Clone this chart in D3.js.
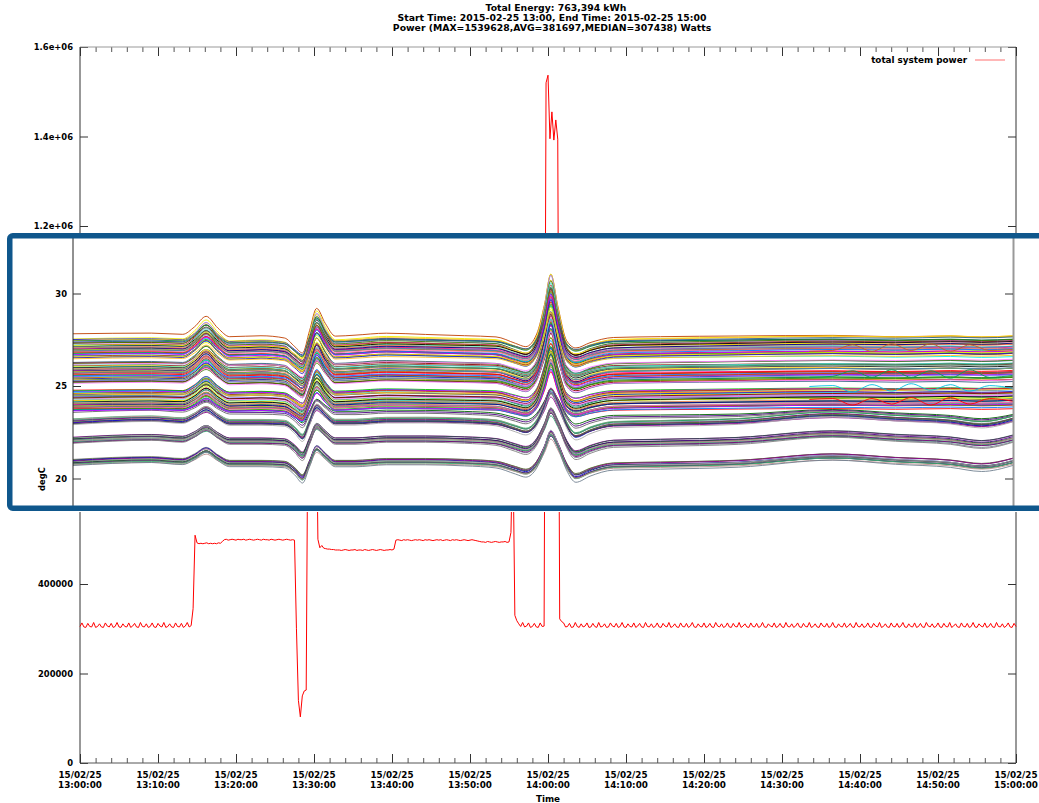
<!DOCTYPE html>
<html><head><meta charset="utf-8">
<script src="https://cdn.jsdelivr.net/npm/d3@7"></script>
<style>
body{margin:0;background:#fff;}
svg text{font-family:"DejaVu Sans",sans-serif;font-weight:bold;fill:#000;}
</style>
</head><body>
<svg id="c" width="1039" height="803"></svg>
<script>
// ---------------- DATA ----------------
const titleLines = [
  "Total Energy: 763,394 kWh",
  "Start Time: 2015-02-25 13:00, End Time: 2015-02-25 15:00",
  "Power (MAX=1539628,AVG=381697,MEDIAN=307438) Watts"
];
const legendLabel = "total system power";
const xAxisLabel = "Time";
const insetYLabel = "degC";

const powerTickValues = [0,200000,400000,600000,800000,1000000,1200000,1400000,1600000];
const powerTickLabels = ["0","200000","400000","600000","800000","1e+06","1.2e+06","1.4e+06","1.6e+06"];
const timeTickLabels = ["13:00:00","13:10:00","13:20:00","13:30:00","13:40:00","13:50:00","14:00:00","14:10:00","14:20:00","14:30:00","14:40:00","14:50:00","15:00:00"];
const dateTickLabel = "15/02/25";
const tempTickValues = [20,25,30];

// total system power, kW, one sample every 15 s from 13:00:00 to 15:00:00
const powerKW = [
305,313,304,303,312,305,304,314,303,305,311,304,303,313,306,304,312,303,305,314,
304,303,311,305,304,313,303,306,312,304,303,314,305,304,311,303,305,313,304,303,
312,306,304,314,303,305,311,304,303,313,305,304,312,303,306,314,304,307,
345,509,
492,490,491,490,491,492,490,491,490,491,490,492,491,
495,
499,500,498,499,500,499,498,500,499,499,
500,498,499,500,499,498,499,500,499,498,
500,499,499,498,500,499,498,499,500,499,
498,499,500,499,498,499,498,
300,140,103,150,161,163,880,910,905,890,870,500,481,486,
480,479,478,478,477,477,476,476,
476,475,476,477,476,475,476,476,477,475,
476,476,475,477,476,475,476,477,476,475,
476,477,476,475,476,476,477,476,478,
498,499,498,497,499,498,499,498,497,498,
499,498,499,498,497,499,498,499,498,497,
498,499,498,499,497,498,499,498,497,499,
498,499,498,497,498,499,498,497,498,499,
498,497,496,
495,494,494,493,495,494,493,494,495,494,493,494,494,495,493,494,
515,720,330,
318,311,305,314,304,306,313,303,305,312,304,303,313,305,
306,1520,1537,1395,1455,1392,1437,1394,322,316,
313,304,305,312,303,304,314,305,303,311,
304,306,313,303,304,312,305,303,314,304,
305,311,303,304,313,306,304,312,303,305,
314,304,303,311,305,304,313,303,306,312,
304,303,314,305,304,311,303,305,313,304,
303,312,306,304,314,303,305,311,304,303,
313,305,304,312,303,306,314,304,303,311,
305,304,313,303,305,312,304,303,314,306,
304,311,303,305,313,304,303,312,305,304,
314,303,306,311,304,303,313,305,304,312,
303,305,314,304,303,311,306,304,313,303,
305,312,304,303,314,305,304,311,303,306,
313,304,303,312,305,304,314,303,305,311,
304,303,313,306,304,312,303,305,314,304,
303,311,305,304,313,303,306,312,304,303,
314,305,304,311,303,305,313,304,303,312,
306,304,314,303,305,311,304,303,313,305,
304,312,303,306,314,304,303,311,305,304,
313,303,305,312,304,303,314,306,304,311,
303,305,313,304,303,312,305,304,314,303,
306,311,304,303,313,305,304,312,303,305,
314,304,303,311,306,304,313,303,305,312,
304,303,314,305,304,311,303,306,313,304,
303,312,305
];

// temperature sensors: time points (minutes after 13:00)
const tempT = [0,10,14,15.5,17,18.5,20,24,27,28.3,29.3,30.2,31.1,32.2,33.5,36,40,45,50,54,56.5,57.8,59.2,60.2,61,61.9,63,64.2,66,69,75,85,97,105,112,116,120];
// common swing (degC) of the warm rack groups
const swingUpper = [0,0.05,0,0.35,0.85,0.3,-0.1,-0.05,-0.15,-0.55,-0.85,0.2,1.25,0.55,-0.05,0,0.1,0.05,0,-0.05,-0.35,-0.5,0.1,1.5,2.9,1.4,-0.2,-0.55,-0.3,-0.05,0,0.05,0.1,0.05,0.1,0.05,0.1];
// common swing (degC) of the cool rack groups
const swingLower = [0,0.15,0.05,0.3,0.65,0.25,-0.05,-0.05,-0.1,-0.45,-0.85,-0.05,0.75,0.35,-0.05,-0.05,0.05,0.05,0,-0.1,-0.4,-0.55,-0.1,0.75,1.55,0.9,-0.2,-0.8,-0.5,-0.2,-0.15,-0.05,0.3,0.1,-0.05,-0.25,0.05];

const groupBase = [27.05, 25.75, 24.3, 23.1, 22.1, 20.9];
// per sensor [offset from group level, swing factor, drift over the 2 h]
const groupA = [[0.8,1.15,-0.25],[0.52,1.2,0.05],[0.49,0.95,-0.1],[0.43,1.1,0.15],[0.41,1.0,0],[0.36,1.25,-0.05],[0.34,0.9,0.2],[0.29,1.05,-0.15],[0.28,1.15,0.1],[0.23,0.95,0],[0.21,1.0,-0.2],[0.17,1.1,0.15],[0.16,0.85,0.05],[0.12,1.2,-0.1],[0.09,1.0,0.2],[0.08,0.9,-0.05],[0.03,1.05,0.1],[0.01,1.15,-0.15],[-0.02,0.95,0],[-0.06,1.0,0.25],[-0.07,1.1,-0.1],[-0.12,0.9,0.05],[-0.13,1.0,0.15],[-0.18,1.2,-0.2],[-0.2,0.95,0.1],[-0.24,1.05,0],[-0.26,0.9,-0.05],[-0.31,1.0,0.2],[-0.33,1.1,0.1],[-0.38,0.95,-0.15],[-0.41,1.0,0.05],[-0.47,0.9,0.2],[-0.5,1.05,0.15],[-0.55,0.85,0.1]];
const groupB = [[0.55,1.05,0],[0.51,0.9,-0.15],[0.47,1.1,0.1],[0.44,0.85,0.2],[0.4,1.0,-0.1],[0.36,0.95,0.05],[0.33,1.1,-0.2],[0.29,0.8,0.15],[0.26,1.0,0],[0.22,0.9,0.1],[0.19,1.05,-0.05],[0.15,0.85,0.25],[0.12,0.95,-0.15],[0.08,1.1,0.05],[0.05,0.9,0.1],[0.02,1.0,-0.1],[-0.02,0.85,0.2],[-0.05,0.95,0],[-0.08,1.05,-0.05],[-0.12,0.9,0.15],[-0.15,1.0,-0.2],[-0.18,0.8,0.1],[-0.22,0.95,0.05],[-0.25,1.1,-0.1],[-0.29,0.85,0.2],[-0.32,0.9,0],[-0.35,1.0,0.15],[-0.39,0.8,-0.05],[-0.42,0.95,0.1],[-0.45,0.85,0.25],[-0.48,1.0,-0.1],[-0.51,0.9,0.05],[-0.54,0.8,0.2],[-0.58,0.95,0.1]];
const groupC = [[0.5,0.9,-0.2],[0.46,0.8,0.1],[0.43,0.95,0],[0.39,0.75,0.15],[0.36,0.85,-0.1],[0.32,0.9,0.2],[0.29,0.7,-0.05],[0.25,0.85,0.1],[0.22,0.8,0.25],[0.18,0.95,-0.15],[0.15,0.75,0.05],[0.12,0.85,0],[0.08,0.8,0.2],[0.05,0.9,-0.1],[0.02,0.7,0.15],[-0.02,0.85,0.05],[-0.05,0.8,-0.2],[-0.08,0.9,0.1],[-0.12,0.75,0],[-0.15,0.85,0.25],[-0.18,0.8,-0.05],[-0.22,0.7,0.15],[-0.25,0.9,0.1],[-0.28,0.8,-0.1],[-0.32,0.75,0.2],[-0.35,0.85,0.05],[-0.38,0.7,0],[-0.42,0.8,0.15],[-0.45,0.75,0.1],[-0.48,0.85,0.25],[-0.52,0.7,-0.05],[-0.55,0.8,0.2],[-0.58,0.75,0.1],[-0.62,0.7,0.3]];
const groupD = [[0.7,0.8,-0.35],[0.6,0.85,-0.3],[0.5,0.9,-0.25],[0.15,1.0,0.1],[0.12,1.05,0.15],[0.09,0.95,0.05],[0.06,1.0,0.2],[0.03,1.1,0.1],[0.0,0.95,0],[-0.03,1.0,0.15],[-0.06,1.05,0.1],[-0.09,0.9,0.05],[-0.12,1.0,0.2],[-0.16,1.1,0.1]];
const groupE = [[0.16,0.95,0.05],[0.13,1.0,0.1],[0.1,1.05,-0.05],[0.07,0.9,0],[0.04,1.0,0.1],[0.01,1.1,0.05],[-0.02,0.95,0],[-0.05,1.0,0.1],[-0.08,1.05,-0.05],[-0.11,0.9,0.05],[-0.14,1.0,0.1],[-0.17,1.1,0]];
const groupF = [[0.16,1.0,0],[0.13,0.95,0.05],[0.1,1.05,-0.05],[0.07,1.0,0.1],[0.04,0.9,0],[0.01,1.1,0.05],[-0.02,1.0,-0.05],[-0.05,0.95,0],[-0.08,1.05,0.1],[-0.11,1.0,0.05],[-0.14,0.9,0],[-0.17,1.1,-0.05]];

// a few sensors that oscillate at the end of the period
const waveT = [94,97,99.5,102,104.5,107,109.5,112,114.5,117,120];
const waveSeries = [
  [24.3,24.35,24.0,24.35,24.05,24.4,24.0,24.4,24.05,24.35,24.2],
  [25.0,25.05,24.7,25.1,24.75,25.15,24.8,25.1,24.75,25.05,24.9],
  [26.9,26.95,27.25,26.9,27.3,26.95,27.3,26.9,27.25,26.95,27.0],
  [25.5,25.55,25.85,25.5,25.9,25.5,25.85,25.45,25.9,25.5,25.6]
];
const waveColors = ["#ff0000","#00c0e0","#c06020","#00a050"];

const palette = ["#ff0000","#00c000","#0080ff","#c000ff","#00eeee","#c04000","#eeee00","#2020c0","#ffc020","#008040","#a080ff","#306080","#8b0000","#408000","#ff80ff","#7fffd4","#a52a2a","#ffff00","#40e0d0","#000000","#a0a0a0","#ff7f50","#2e8b57","#ff1493","#00008b","#9acd32","#d2691e","#4682b4","#8b4513","#ff69b4"];
const lowerPalette = ["#808080","#556b2f","#0000cd","#8b008b","#2f4f4f","#a9a9a9","#006400","#4b0082","#696969","#3cb371","#bc8f8f","#708090","#20a060","#800080"];

// ---------------- CHART ----------------
const svg = d3.select("#c");
const t0 = new Date(2015,1,25,13,0,0), t1 = new Date(2015,1,25,15,0,0);
const minToDate = m => new Date(+t0 + m*60000);
const L = 80, R = 1016, T = 47, B = 763;
const x = d3.scaleTime().domain([t0,t1]).range([L,R]);
const y = d3.scaleLinear().domain([0,1600000]).range([B,T]);

// titles
svg.selectAll("text.title").data(titleLines).join("text").attr("class","title")
  .attr("x",(d,i)=> i===0?556:552).attr("y",(d,i)=>10.5+i*10)
  .attr("text-anchor","middle").style("font-size","9.3px").text(d=>d);

// y axis (left & right)
const axStyle = g => g.attr("font-family","DejaVu Sans").attr("font-size",8.4).attr("font-weight","bold").attr("color","#333");
const gyl = svg.append("g").attr("transform",`translate(${L},0)`)
  .call(d3.axisLeft(y).tickValues(powerTickValues).tickFormat((d,i)=>powerTickLabels[i]).tickSizeInner(-8).tickSizeOuter(0).tickPadding(7))
  .call(axStyle);
gyl.select(".domain").remove();
gyl.selectAll("text").attr("fill","#000");
const gyr = svg.append("g").attr("transform",`translate(${R},0)`)
  .call(d3.axisRight(y).tickValues(powerTickValues).tickFormat("").tickSizeInner(-8).tickSizeOuter(0))
  .call(axStyle);
gyr.select(".domain").remove();

// x axis ticks
const majorDates = timeTickLabels.map(s=>{const [h,m]=s.split(":").map(Number);return new Date(2015,1,25,h,m,0);});
const minorDates = d3.timeMinute.every(2).range(t0,t1).filter(d=>d.getMinutes()%10!==0);
[[B,d3.axisBottom],[T,d3.axisTop]].forEach(([yy,ax])=>{
  const g1 = svg.append("g").attr("transform",`translate(0,${yy})`).call(ax(x).tickValues(majorDates).tickFormat("").tickSizeInner(-9).tickSizeOuter(0)).call(axStyle);
  g1.select(".domain").remove();
  const g2 = svg.append("g").attr("transform",`translate(0,${yy})`).call(ax(x).tickValues(minorDates).tickFormat("").tickSizeInner(-5).tickSizeOuter(0)).call(axStyle);
  g2.select(".domain").remove();
  g2.attr("color","#555");
});
// x labels
const xl = svg.append("g").style("font-size","8.8px");
majorDates.forEach((d,i)=>{
  const t = xl.append("text").attr("text-anchor","middle");
  t.append("tspan").attr("x",x(d)).attr("y",777.5).text(dateTickLabel);
  t.append("tspan").attr("x",x(d)).attr("y",787.5).text(timeTickLabels[i]);
});
svg.append("text").attr("x",(L+R)/2).attr("y",801.5).attr("text-anchor","middle").style("font-size","8.8px").text(xAxisLabel);

// border
svg.append("line").attr("x1",L).attr("x2",R).attr("y1",T).attr("y2",T).attr("stroke","#999");
svg.append("line").attr("x1",L).attr("x2",R).attr("y1",B).attr("y2",B).attr("stroke","#555");
svg.append("line").attr("x1",L).attr("x2",L).attr("y1",T).attr("y2",B).attr("stroke","#333");
svg.append("line").attr("x1",R).attr("x2",R).attr("y1",T).attr("y2",B).attr("stroke","#333");

// power line
svg.append("path").datum(powerKW)
  .attr("d", d3.line().x((d,i)=>x(new Date(+t0+i*15000))).y(d=>y(d*1000)))
  .attr("fill","none").attr("stroke","#ff0000").attr("stroke-width",1);

// legend
svg.append("text").attr("x",967).attr("y",63).attr("text-anchor","end").style("font-size","8.8px").text(legendLabel);
svg.append("line").attr("x1",975).attr("x2",1005).attr("y1",60).attr("y2",60).attr("stroke","#ff7070").attr("stroke-width",1);

// ---------------- INSET (temperatures) ----------------
const xi = d3.scaleTime().domain([t0,t1]).range([73,1013]);
const yi = d3.scaleLinear().domain([20,30]).range([479,294]);
const gi = svg.append("g");
gi.append("rect").attr("x",7).attr("y",233).attr("width",1040).attr("height",279).attr("fill","#fff");
svg.append("defs").append("clipPath").attr("id","clipI").append("rect").attr("x",73).attr("y",239).attr("width",940).attr("height",267);

function build(base, swing, members, colors, cOff){
  return members.map(([off,gain,drift],k)=>({
    color: colors[(k+cOff)%colors.length],
    pts: tempT.map((t,i)=>[t, base+off+gain*swing[i]+drift*t/120])
  }));
}
const series = [].concat(
  build(groupBase[5], swingLower, groupF, lowerPalette, 0),
  build(groupBase[4], swingLower, groupE, lowerPalette, 3),
  build(groupBase[3], swingLower, groupD, lowerPalette, 6),
  build(groupBase[2], swingUpper, groupC, palette, 0),
  build(groupBase[1], swingUpper, groupB, palette, 11),
  build(groupBase[0], swingUpper, groupA, palette, 5)
);
waveSeries.forEach((vals,k)=>series.push({color:waveColors[k], pts: waveT.map((t,i)=>[t, vals[i]])}));

const tline = d3.line().x(d=>xi(minToDate(d[0]))).y(d=>yi(d[1])).curve(d3.curveMonotoneX);
gi.append("g").attr("clip-path","url(#clipI)").selectAll("path").data(series).join("path")
  .attr("d", d=>tline(d.pts)).attr("fill","none").attr("stroke",d=>d.color).attr("stroke-width",0.9);

// inset axes
gi.append("line").attr("x1",73).attr("x2",73).attr("y1",238).attr("y2",507).attr("stroke","#222");
gi.append("line").attr("x1",1013.5).attr("x2",1013.5).attr("y1",238).attr("y2",507).attr("stroke","#999").attr("stroke-width",2);
tempTickValues.forEach(v=>{
  gi.append("line").attr("x1",73).attr("x2",81).attr("y1",yi(v)).attr("y2",yi(v)).attr("stroke","#333");
  gi.append("line").attr("x1",1005).attr("x2",1013).attr("y1",yi(v)).attr("y2",yi(v)).attr("stroke","#333");
  gi.append("text").attr("x",67).attr("y",yi(v)).attr("dy","0.35em").attr("text-anchor","end").style("font-size","8.4px").text(String(v));
});
gi.append("text").attr("transform","translate(45,479) rotate(-90)").attr("text-anchor","middle").style("font-size","8.4px").text(insetYLabel);

// inset frame
gi.append("rect").attr("x",9.75).attr("y",235.75).attr("width",1040).attr("height",272.5).attr("rx",3)
  .attr("fill","none").attr("stroke","#0f578c").attr("stroke-width",5.5);
</script>
</body></html>
